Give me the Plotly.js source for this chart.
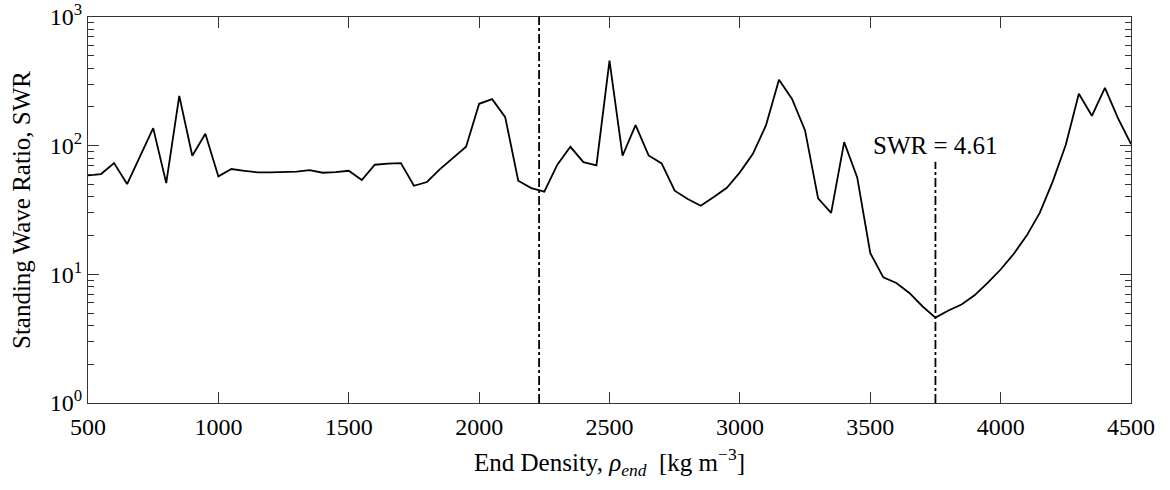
<!DOCTYPE html>
<html>
<head>
<meta charset="utf-8">
<script src="https://cdn.plot.ly/plotly-3.0.1.min.js"></script>
<style>html,body{margin:0;padding:0;background:#fff;}#chart{width:1170px;height:490px;}</style>
</head>
<body>
<div id="chart"></div>
<script>
const density = [500,550,600,650,700,750,800,850,900,950,1000,1050,1100,1150,1200,1250,1300,1350,1400,1450,1500,1550,1600,1650,1700,1750,1800,1850,1900,1950,2000,2050,2100,2150,2200,2250,2300,2350,2400,2450,2500,2550,2600,2650,2700,2750,2800,2850,2900,2950,3000,3050,3100,3150,3200,3250,3300,3350,3400,3450,3500,3550,3600,3650,3700,3750,3800,3850,3900,3950,4000,4050,4100,4150,4200,4250,4300,4350,4400,4450,4500];
const swr = [58.7,60.2,73.2,50.3,83,136.9,51.2,243.9,83.5,123.7,57.7,65.8,63.8,62,62,62.3,62.9,64.6,61.6,62.3,63.8,54.0,71.1,72.5,73.2,48.8,52.2,65.8,80.1,98,211.5,230,166.7,53.4,46.8,43.9,71.1,98,74.5,70.2,458.9,83.5,144.5,84,72.8,44.7,38.5,34.1,39.9,47.1,62,86.5,143.6,324.8,231,131.3,38.9,30,106.6,56.7,14.65,9.48,8.57,7.17,5.65,4.61,5.23,5.82,6.87,8.57,10.9,14.4,20,30,52.8,101.6,253,170.7,281.6,163.7,102.9];
const markerA_x = [2230, 2230];
const markerA_y = [1, 1000];
const markerB_x = [3750, 3750];
const markerB_y = [1, 75];
const annText = "SWR = 4.61";
const annX = 3750, annY = 100;
const xTicks = [500,1000,1500,2000,2500,3000,3500,4000,4500];
const yTicks = [1,10,100,1000];
const yTickText = ["10<sup>0</sup>","10<sup>1</sup>","10<sup>2</sup>","10<sup>3</sup>"];
const yMinor = [];
[1,10,100].forEach(d => { for (let k=2;k<=9;k++) yMinor.push(k*d); });

const font = "'Liberation Serif', 'Times New Roman', serif";
const traces = [
  {x: density, y: swr, mode: 'lines', line: {color: '#000', width: 1.8}, hoverinfo: 'x+y'},
  {x: markerA_x, y: markerA_y, mode: 'lines', line: {color: '#000', width: 1.8, dash: 'dashdot'}},
  {x: markerB_x, y: markerB_y, mode: 'lines', line: {color: '#000', width: 1.8, dash: 'dashdot'}}
];
const layout = {
  width: 1170, height: 490,
  margin: {l: 88, r: 39, t: 17, b: 87},
  showlegend: false,
  paper_bgcolor: '#fff', plot_bgcolor: '#fff',
  font: {family: font, size: 24, color: '#000'},
  xaxis: {
    range: [500, 4500], tickmode: 'array', tickvals: xTicks,
    ticks: 'inside', ticklen: 11, tickwidth: 1, tickcolor: '#333',
    ticklabelstandoff: 2,
    showline: true, linecolor: '#333', linewidth: 1, mirror: 'ticks',
    showgrid: false, zeroline: false,
    tickfont: {family: font, size: 24, color: '#000'},
    title: {text: 'End Density, <i>ρ</i><sub><i>end</i></sub>  [kg m<sup>−3</sup>]', font: {family: font, size: 25}, standoff: 14}
  },
  yaxis: {
    type: 'log', range: [0, 3], tickmode: 'array', tickvals: yTicks, ticktext: yTickText,
    ticks: 'inside', ticklen: 11, tickwidth: 1, tickcolor: '#333',
    minor: {tickmode: 'array', tickvals: yMinor, ticks: 'inside', ticklen: 6, tickwidth: 1, tickcolor: '#333', showgrid: false},
    showline: true, linecolor: '#333', linewidth: 1, mirror: 'ticks',
    showgrid: false, zeroline: false,
    tickfont: {family: font, size: 24, color: '#000'},
    title: {text: 'Standing Wave Ratio, SWR', font: {family: font, size: 25}, standoff: 12}
  },
  annotations: [{x: annX, y: Math.log10(annY), xref: 'x', yref: 'y', text: annText, showarrow: false, font: {family: font, size: 25, color: '#000'}, xanchor: 'center', yanchor: 'middle'}]
};
Plotly.newPlot('chart', traces, layout, {displayModeBar: false, staticPlot: true});
</script>
</body>
</html>
